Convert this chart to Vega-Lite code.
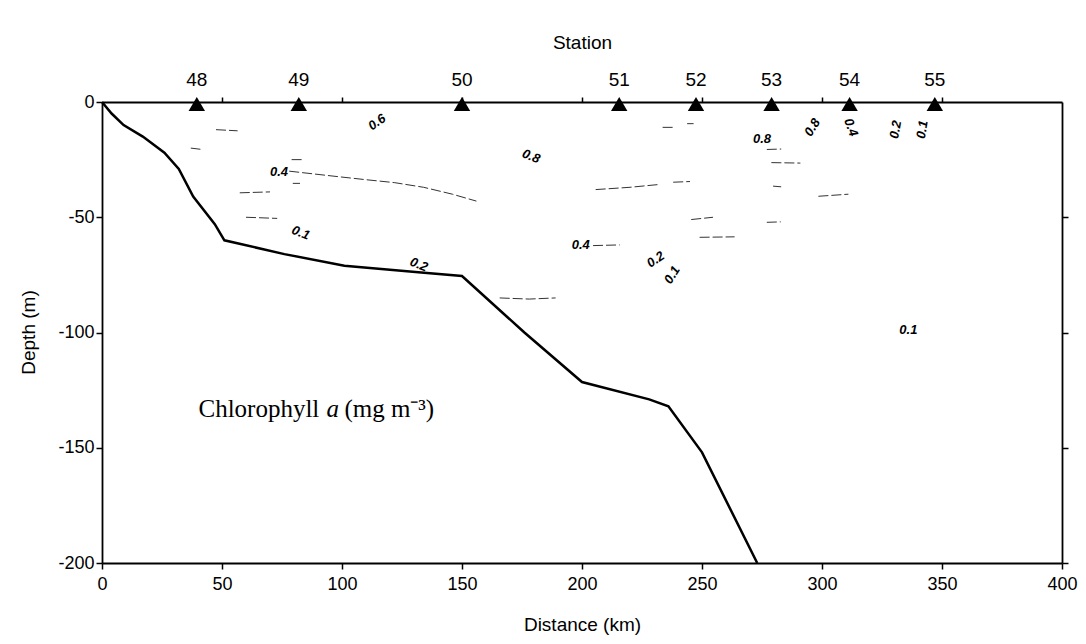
{
  "$schema": "https://vega.github.io/schema/vega-lite/v6.json",
  "autosize": "none",
  "width": 960,
  "height": 461,
  "padding": {"left": 102, "top": 102, "right": 24, "bottom": 81},
  "background": "white",
  "config": {
    "view": {"stroke": null},
    "axis": {
      "labelFont": "Liberation Sans",
      "titleFont": "Liberation Sans",
      "labelColor": "black",
      "titleColor": "black",
      "domainColor": "black",
      "tickColor": "black",
      "grid": false,
      "labelFontSize": 18,
      "titleFontSize": 19,
      "titleFontWeight": "normal",
      "domainWidth": 1.8,
      "tickWidth": 1.5
    }
  },
  "datasets": {
    "bathy": [
      {"dist": 0, "depth": 0}, {"dist": 4, "depth": -5}, {"dist": 9, "depth": -10},
      {"dist": 17, "depth": -15}, {"dist": 26, "depth": -22}, {"dist": 32, "depth": -29},
      {"dist": 38, "depth": -41}, {"dist": 47, "depth": -53}, {"dist": 51, "depth": -60},
      {"dist": 76, "depth": -66}, {"dist": 101, "depth": -71}, {"dist": 133, "depth": -74},
      {"dist": 150, "depth": -75.5}, {"dist": 176, "depth": -100}, {"dist": 200, "depth": -121.5},
      {"dist": 228, "depth": -129}, {"dist": 236, "depth": -132}, {"dist": 250, "depth": -152},
      {"dist": 273, "depth": -200}
    ],
    "contours": [
      {"seg": 1, "dist": 47.5, "depth": -12}, {"seg": 1, "dist": 56.5, "depth": -12.5},
      {"seg": 2, "dist": 37, "depth": -20}, {"seg": 2, "dist": 41, "depth": -20.5},
      {"seg": 3, "dist": 79, "depth": -25}, {"seg": 3, "dist": 84, "depth": -25},
      {"seg": 4, "dist": 78, "depth": -30}, {"seg": 4, "dist": 95, "depth": -32},
      {"seg": 4, "dist": 109, "depth": -33.6}, {"seg": 4, "dist": 122, "depth": -35},
      {"seg": 4, "dist": 134, "depth": -37}, {"seg": 4, "dist": 146, "depth": -40},
      {"seg": 4, "dist": 156, "depth": -43},
      {"seg": 5, "dist": 57.4, "depth": -39.4}, {"seg": 5, "dist": 70, "depth": -39},
      {"seg": 6, "dist": 60, "depth": -50}, {"seg": 6, "dist": 73, "depth": -50.5},
      {"seg": 7, "dist": 165.7, "depth": -85}, {"seg": 7, "dist": 178, "depth": -85.5}, {"seg": 7, "dist": 189, "depth": -85},
      {"seg": 8, "dist": 205.7, "depth": -38}, {"seg": 8, "dist": 220, "depth": -37}, {"seg": 8, "dist": 232, "depth": -35.8},
      {"seg": 9, "dist": 238, "depth": -34.8}, {"seg": 9, "dist": 245, "depth": -34.5},
      {"seg": 10, "dist": 278.9, "depth": -26.3}, {"seg": 10, "dist": 291, "depth": -26.5},
      {"seg": 11, "dist": 279.6, "depth": -36.5}, {"seg": 11, "dist": 283, "depth": -36.8},
      {"seg": 12, "dist": 298.5, "depth": -40.9}, {"seg": 12, "dist": 311, "depth": -40},
      {"seg": 13, "dist": 245.5, "depth": -51}, {"seg": 13, "dist": 254.6, "depth": -50},
      {"seg": 14, "dist": 277, "depth": -52.2}, {"seg": 14, "dist": 282.8, "depth": -52},
      {"seg": 15, "dist": 249, "depth": -58.7}, {"seg": 15, "dist": 263.6, "depth": -58.5},
      {"seg": 16, "dist": 204.6, "depth": -62.3}, {"seg": 16, "dist": 215.7, "depth": -62},
      {"seg": 17, "dist": 233.6, "depth": -11}, {"seg": 17, "dist": 239, "depth": -11},
      {"seg": 18, "dist": 243.8, "depth": -9.4}, {"seg": 18, "dist": 246.5, "depth": -9.4},
      {"seg": 19, "dist": 277, "depth": -20.6}, {"seg": 19, "dist": 283, "depth": -20.4},
      {"seg": 20, "dist": 79.5, "depth": -35.3}, {"seg": 20, "dist": 82.5, "depth": -35.3}
    ],
    "stations": [
      {"station": "48", "dist": 39.5}, {"station": "49", "dist": 82},
      {"station": "50", "dist": 150}, {"station": "51", "dist": 215.5},
      {"station": "52", "dist": 247.5}, {"station": "53", "dist": 279},
      {"station": "54", "dist": 311.5}, {"station": "55", "dist": 347}
    ],
    "labels": [
      {"value": "0.6", "dist": 114.6, "depth": -8.8, "slope": "up"},
      {"value": "0.8", "dist": 178.75, "depth": -23.6, "slope": "down"},
      {"value": "0.4", "dist": 73.75, "depth": -30.4, "slope": "flat"},
      {"value": "0.1", "dist": 82.8, "depth": -56.8, "slope": "down"},
      {"value": "0.2", "dist": 132, "depth": -70.6, "slope": "down"},
      {"value": "0.4", "dist": 199.5, "depth": -61.9, "slope": "flat"},
      {"value": "0.2", "dist": 230.7, "depth": -68.4, "slope": "up"},
      {"value": "0.1", "dist": 237.6, "depth": -75, "slope": "steep"},
      {"value": "0.1", "dist": 336, "depth": -99, "slope": "flat"},
      {"value": "0.8", "dist": 275, "depth": -16.2, "slope": "flat"},
      {"value": "0.8", "dist": 296, "depth": -11, "slope": "steep"},
      {"value": "0.4", "dist": 312, "depth": -11, "slope": "vdown"},
      {"value": "0.2", "dist": 330.7, "depth": -12, "slope": "vertical"},
      {"value": "0.1", "dist": 341.8, "depth": -12, "slope": "vertical"}
    ],
    "note": [
      {"part": "Chlorophyll", "dist": 40.2, "depth": -136.6, "style": "plain"},
      {"part": "a", "dist": 93.5, "depth": -136.6, "style": "italic"},
      {"part": "(mg m⁻³)", "dist": 101, "depth": -136.6, "style": "plain"}
    ]
  },
  "resolve": {"axis": {"x": "independent", "y": "independent"}},
  "layer": [
    {
      "data": {"name": "bathy"},
      "mark": {"type": "line", "color": "black", "strokeWidth": 2.5},
      "encoding": {
        "x": {"field": "dist", "type": "quantitative", "scale": {"domain": [0, 400], "nice": false},
          "axis": {"orient": "bottom", "values": [0, 50, 100, 150, 200, 250, 300, 350, 400], "title": "Distance (km)",
            "tickSize": 6, "labelPadding": 6, "titlePadding": 22, "labelFlush": false}},
        "y": {"field": "depth", "type": "quantitative", "scale": {"domain": [-200, 0], "nice": false},
          "axis": {"orient": "left", "values": [0, -50, -100, -150, -200], "title": "Depth (m)",
            "labelExpr": "replace(datum.label, '−', '-')",
            "tickSize": 6, "labelPadding": 2, "titleX": -74, "titleY": 230, "titleBaseline": "middle", "labelFlush": false}}
      }
    },
    {
      "data": {"name": "contours"},
      "mark": {"type": "line", "color": "#333", "strokeWidth": 1, "strokeDash": [10, 3]},
      "encoding": {
        "x": {"field": "dist", "type": "quantitative", "axis": null},
        "y": {"field": "depth", "type": "quantitative", "axis": null},
        "detail": {"field": "seg", "type": "nominal"}
      }
    },
    {
      "data": {"name": "stations"},
      "mark": {"type": "point", "shape": "triangle-up", "filled": true, "color": "black", "size": 270, "opacity": 1, "yOffset": 2},
      "encoding": {
        "x": {"field": "dist", "type": "quantitative",
          "axis": {"orient": "top", "labels": false, "values": [50, 100, 150, 200, 250, 300, 350], "tickSize": 5,
            "title": "Station", "titleY": -60, "titleBaseline": "middle", "titleX": 480}},
        "y": {"datum": 0, "type": "quantitative",
          "axis": {"orient": "right", "labels": false, "values": [-50, -100, -150, -200], "tickSize": 6, "title": null}}
      }
    },
    {
      "data": {"name": "stations"},
      "mark": {"type": "text", "font": "Liberation Sans", "fontSize": 19, "color": "black", "dy": -22, "baseline": "middle"},
      "encoding": {
        "x": {"field": "dist", "type": "quantitative", "axis": null},
        "y": {"datum": 0, "type": "quantitative", "axis": null},
        "text": {"field": "station"}
      }
    },
    {
      "data": {"name": "labels"},
      "transform": [{"filter": "datum.slope === 'flat'"}],
      "mark": {"type": "text", "font": "Liberation Sans", "fontSize": 13, "fontWeight": "bold", "fontStyle": "italic", "color": "black", "angle": 0},
      "encoding": {
        "x": {"field": "dist", "type": "quantitative", "axis": null},
        "y": {"field": "depth", "type": "quantitative", "axis": null},
        "text": {"field": "value"}
      }
    },
    {
      "data": {"name": "labels"},
      "transform": [{"filter": "datum.slope === 'down'"}],
      "mark": {"type": "text", "font": "Liberation Sans", "fontSize": 13, "fontWeight": "bold", "fontStyle": "italic", "color": "black", "angle": 22},
      "encoding": {
        "x": {"field": "dist", "type": "quantitative", "axis": null},
        "y": {"field": "depth", "type": "quantitative", "axis": null},
        "text": {"field": "value"}
      }
    },
    {
      "data": {"name": "labels"},
      "transform": [{"filter": "datum.slope === 'up'"}],
      "mark": {"type": "text", "font": "Liberation Sans", "fontSize": 13, "fontWeight": "bold", "fontStyle": "italic", "color": "black", "angle": 325},
      "encoding": {
        "x": {"field": "dist", "type": "quantitative", "axis": null},
        "y": {"field": "depth", "type": "quantitative", "axis": null},
        "text": {"field": "value"}
      }
    },
    {
      "data": {"name": "labels"},
      "transform": [{"filter": "datum.slope === 'steep'"}],
      "mark": {"type": "text", "font": "Liberation Sans", "fontSize": 13, "fontWeight": "bold", "fontStyle": "italic", "color": "black", "angle": 302},
      "encoding": {
        "x": {"field": "dist", "type": "quantitative", "axis": null},
        "y": {"field": "depth", "type": "quantitative", "axis": null},
        "text": {"field": "value"}
      }
    },
    {
      "data": {"name": "labels"},
      "transform": [{"filter": "datum.slope === 'vertical'"}],
      "mark": {"type": "text", "font": "Liberation Sans", "fontSize": 13, "fontWeight": "bold", "fontStyle": "italic", "color": "black", "angle": 280},
      "encoding": {
        "x": {"field": "dist", "type": "quantitative", "axis": null},
        "y": {"field": "depth", "type": "quantitative", "axis": null},
        "text": {"field": "value"}
      }
    },
    {
      "data": {"name": "labels"},
      "transform": [{"filter": "datum.slope === 'vdown'"}],
      "mark": {"type": "text", "font": "Liberation Sans", "fontSize": 13, "fontWeight": "bold", "fontStyle": "italic", "color": "black", "angle": 70},
      "encoding": {
        "x": {"field": "dist", "type": "quantitative", "axis": null},
        "y": {"field": "depth", "type": "quantitative", "axis": null},
        "text": {"field": "value"}
      }
    },
    {
      "data": {"name": "note"},
      "transform": [{"filter": "datum.style === 'plain'"}],
      "mark": {"type": "text", "font": "Liberation Serif", "fontSize": 25, "color": "black", "align": "left", "baseline": "alphabetic"},
      "encoding": {
        "x": {"field": "dist", "type": "quantitative", "axis": null},
        "y": {"field": "depth", "type": "quantitative", "axis": null},
        "text": {"field": "part"}
      }
    },
    {
      "data": {"name": "note"},
      "transform": [{"filter": "datum.style === 'italic'"}],
      "mark": {"type": "text", "font": "Liberation Serif", "fontSize": 25, "fontStyle": "italic", "color": "black", "align": "left", "baseline": "alphabetic"},
      "encoding": {
        "x": {"field": "dist", "type": "quantitative", "axis": null},
        "y": {"field": "depth", "type": "quantitative", "axis": null},
        "text": {"field": "part"}
      }
    }
  ]
}
